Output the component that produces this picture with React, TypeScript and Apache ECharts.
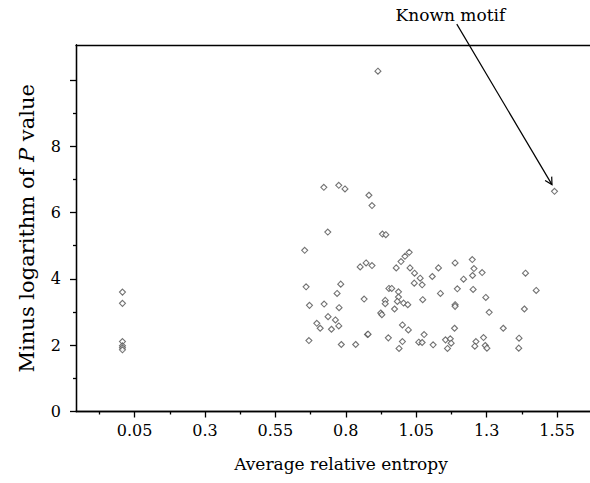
import React, { useEffect, useRef } from "react";
import * as echarts from "echarts";

// Average relative entropy (x) and minus log P (y) of each motif
const entropy = [
  0.007, 0.007, 0.007, 0.007, 0.007, 0.007,
  0.914,
  0.722, 0.775, 0.797, 0.882, 0.893,
  0.736, 0.930, 0.942,
  0.654,
  0.851, 0.872, 0.893,
  0.979, 0.996, 1.010, 1.025,
  1.028, 1.044, 1.064, 1.043, 1.071, 1.107, 1.129,
  0.659, 0.782, 0.769,
  0.671, 0.723, 0.776,
  0.865,
  0.953, 0.963,
  0.987, 0.987, 0.983, 1.005, 1.020, 0.973,
  0.940, 0.940,
  0.924, 0.928,
  1.073,
  0.737, 0.763, 0.775, 0.697, 0.709, 0.749,
  1.001, 1.022,
  0.669,
  0.877, 0.879,
  0.784, 0.835,
  0.951,
  1.001, 0.989,
  1.059, 1.071,
  1.078,
  1.110,
  1.136,
  1.188, 1.249, 1.255, 1.250, 1.284, 1.218,
  1.196, 1.252, 1.297,
  1.188, 1.188,
  1.309,
  1.438, 1.476, 1.434,
  1.359, 1.186,
  1.154, 1.171, 1.174, 1.161,
  1.262, 1.258, 1.289, 1.295, 1.301,
  1.415, 1.414,
  1.541,
];
const minusLogP = [
  3.60, 3.26, 2.11, 1.98, 1.92, 1.86,
  10.26,
  6.76, 6.82, 6.71, 6.52, 6.21,
  5.41, 5.35, 5.33,
  4.86,
  4.36, 4.48, 4.40,
  4.33, 4.52, 4.68, 4.80,
  4.33, 4.17, 4.02, 3.87, 3.82, 4.07, 4.33,
  3.76, 3.84, 3.56,
  3.20, 3.24, 3.13,
  3.39,
  3.71, 3.71,
  3.61, 3.45, 3.32, 3.27, 3.22, 3.09,
  3.35, 3.25,
  2.97, 2.92,
  3.37,
  2.86, 2.76, 2.58, 2.66, 2.51, 2.48,
  2.61, 2.46,
  2.14,
  2.32, 2.33,
  2.02, 2.02,
  2.22,
  2.11, 1.90,
  2.09, 2.08,
  2.32,
  2.01,
  3.56,
  4.48, 4.58, 4.31, 4.10, 4.19, 3.99,
  3.70, 3.68, 3.44,
  3.22, 3.17,
  2.99,
  4.17, 3.65, 3.09,
  2.51, 2.51,
  2.16, 2.19, 2.06, 1.90,
  2.11, 1.97, 2.23, 1.99, 1.91,
  2.21, 1.91,
  6.64,
];

const xMajorTicks = [0.05, 0.3, 0.55, 0.8, 1.05, 1.3, 1.55];
const xMinorTicks = [-0.075, 0.175, 0.425, 0.675, 0.925, 1.175, 1.425];
const yMajorTicks = [0, 2, 4, 6, 8, 10];
const yTickLabels = [0, 2, 4, 6, 8];
const yMinorTicks = [1, 3, 5, 7, 9];
const xRange = [-0.158, 1.667];
const yRange = [0, 11.05];

const annotationText = "Known motif";
const annotationAnchor = [1.366, 11.94]; // right end of the text
const arrowStart = [1.194, 11.68];
const arrowEnd = [1.532, 6.84];

const FONT = "'DejaVu Serif', serif";

export default function App() {
  const ref = useRef<HTMLDivElement>(null);
  useEffect(() => {
    if (!ref.current) return;
    const chart = echarts.init(ref.current, null, { renderer: "svg" });
    const black = { color: "#000", width: 1.3 };
    const common = {
      type: "value",
      min: xRange[0],
      max: xRange[1],
      splitLine: { show: false },
    };
    const data = entropy.map((x, i) => [x, minusLogP[i]]);
    chart.setOption({
      animation: false,
      backgroundColor: "#fff",
      grid: { left: 76, right: 0, top: 45, bottom: 71.5, containLabel: false },
      xAxis: [
        {
          ...common,
          position: "bottom",
          axisLine: { show: true, onZero: false, lineStyle: black },
          axisTick: { show: true, customValues: xMajorTicks, length: 6, lineStyle: black },
          axisLabel: {
            show: true,
            customValues: xMajorTicks,
            formatter: (v: number) => String(+v.toFixed(2)),
            margin: 11,
            color: "#000",
            fontFamily: FONT,
            fontSize: 16,
          },
          name: "Average relative entropy",
          nameLocation: "middle",
          nameGap: 44,
          nameTextStyle: { color: "#000", fontFamily: FONT, fontSize: 17, padding: [0, 0, 0, 16] },
        },
        {
          ...common,
          position: "bottom",
          axisLine: { show: true, onZero: false, lineStyle: black },
          axisTick: { show: true, customValues: xMinorTicks, length: 3, lineStyle: black },
          axisLabel: { show: false },
        },
        {
          ...common,
          position: "top",
          axisLine: { show: true, onZero: false, lineStyle: black },
          axisTick: { show: false },
          axisLabel: { show: false },
        },
      ],
      yAxis: [
        {
          type: "value",
          min: yRange[0],
          max: yRange[1],
          position: "left",
          splitLine: { show: false },
          axisLine: { show: true, onZero: false, lineStyle: black },
          axisTick: { show: true, customValues: yMajorTicks, length: 6, lineStyle: black },
          axisLabel: {
            show: true,
            customValues: yTickLabels,
            margin: 15,
            color: "#000",
            fontFamily: FONT,
            fontSize: 16,
          },
          name: "Minus logarithm of {i|P} value",
          nameLocation: "middle",
          nameGap: 39,
          nameRotate: 90,
          nameTextStyle: {
            color: "#000",
            fontFamily: FONT,
            fontSize: 21,
            rich: {
              i: { fontStyle: "italic", fontFamily: FONT, fontSize: 21, color: "#000" },
            },
          },
        },
        {
          type: "value",
          min: yRange[0],
          max: yRange[1],
          position: "left",
          splitLine: { show: false },
          axisLine: { show: true, onZero: false, lineStyle: black },
          axisTick: { show: true, customValues: yMinorTicks, length: 3, lineStyle: black },
          axisLabel: { show: false },
        },
      ],
      series: [
        {
          type: "scatter",
          xAxisIndex: 0,
          yAxisIndex: 0,
          data,
          symbol: "diamond",
          symbolSize: 6,
          itemStyle: { color: "#fff", borderColor: "#505050", borderWidth: 1.1 },
          emphasis: { disabled: true },
        },
      ],
    });

    const finder = { xAxisIndex: 0, yAxisIndex: 0 };
    const p0 = chart.convertToPixel(finder, arrowStart) as number[];
    const p1 = chart.convertToPixel(finder, arrowEnd) as number[];
    const pt = chart.convertToPixel(finder, annotationAnchor) as number[];
    const dx = p1[0] - p0[0];
    const dy = p1[1] - p0[1];
    const len = Math.hypot(dx, dy);
    const ux = dx / len;
    const uy = dy / len;
    const ah = 8;
    const ang = 0.5;
    const c = Math.cos(ang);
    const s = Math.sin(ang);
    const left = [p1[0] - ah * (ux * c - uy * s), p1[1] - ah * (uy * c + ux * s)];
    const right = [p1[0] - ah * (ux * c + uy * s), p1[1] - ah * (uy * c - ux * s)];
    chart.setOption({
      graphic: [
        {
          type: "line",
          shape: { x1: p0[0], y1: p0[1], x2: p1[0], y2: p1[1] },
          style: { stroke: "#000", lineWidth: 1.2 },
          silent: true,
        },
        {
          type: "polyline",
          shape: { points: [left, p1, right] },
          style: { stroke: "#000", lineWidth: 1.2, fill: null },
          silent: true,
        },
        {
          type: "text",
          x: pt[0],
          y: pt[1],
          style: {
            text: annotationText,
            fill: "#000",
            font: `17px ${FONT}`,
            align: "right",
            verticalAlign: "middle",
            textAlign: "right",
            textVerticalAlign: "middle",
          },
          silent: true,
        },
      ],
    });
    return () => chart.dispose();
  }, []);
  return (
    <div
      ref={ref}
      style={{ position: "absolute", left: 0, top: 0, width: 590, height: 483, background: "#fff" }}
    />
  );
}
